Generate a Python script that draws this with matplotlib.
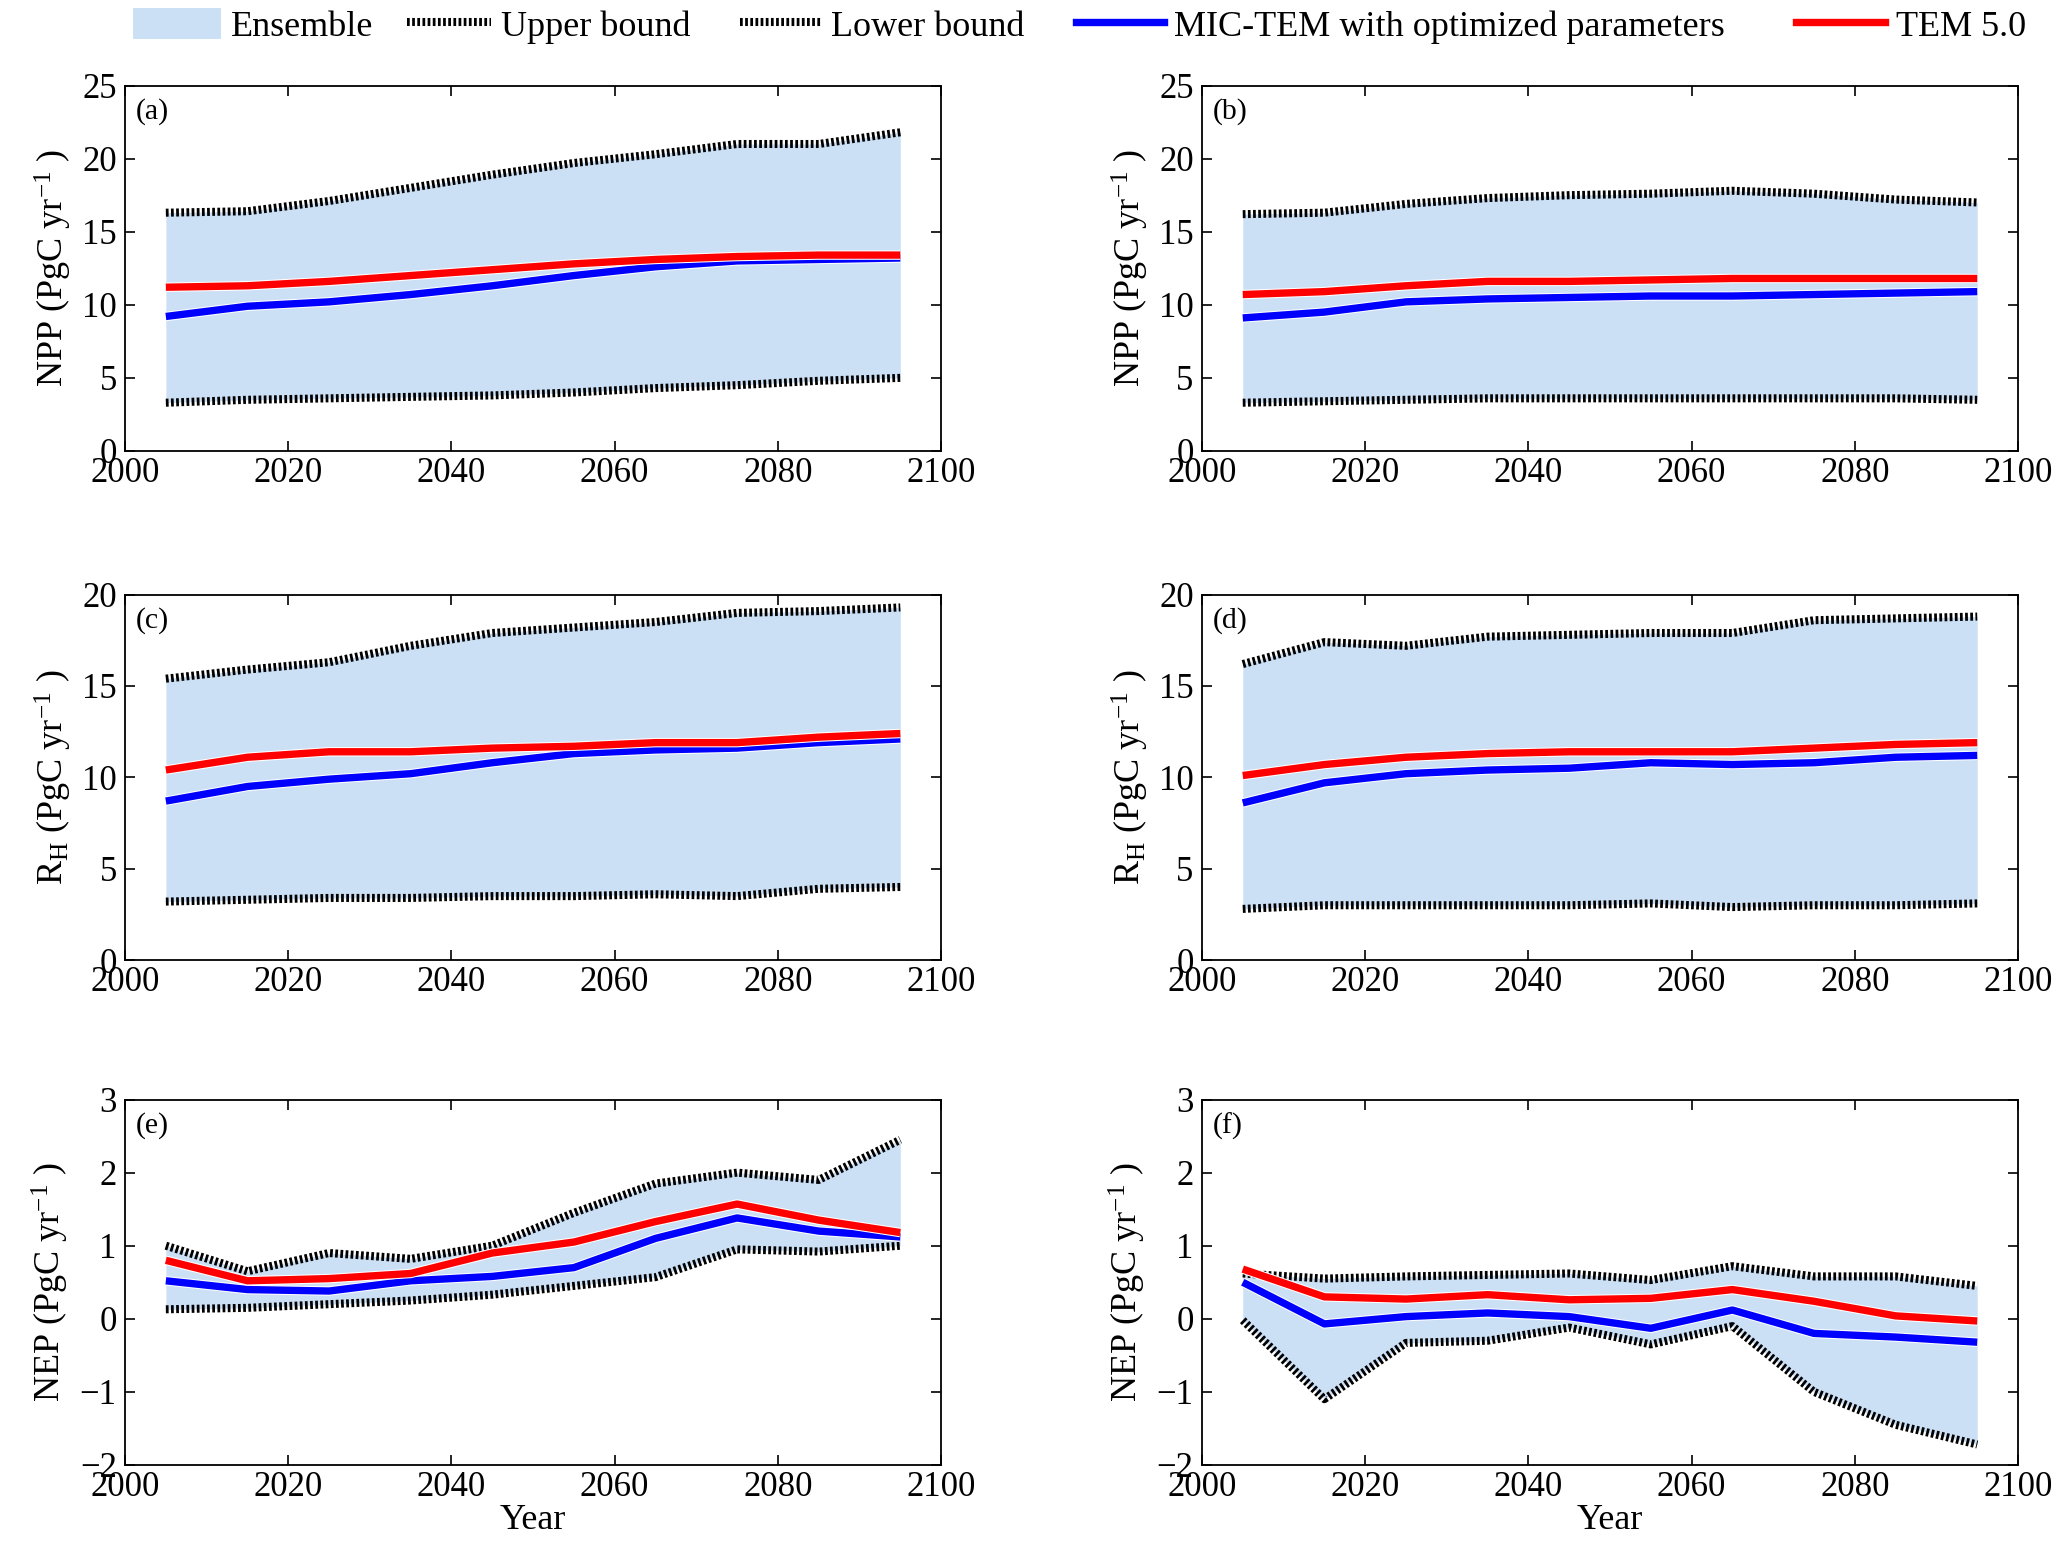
import numpy as np
import matplotlib
matplotlib.use("Agg")
import matplotlib.pyplot as plt
import matplotlib.patheffects as pe
from matplotlib.patches import Patch
from matplotlib.lines import Line2D

plt.rcParams['font.family'] = ['Liberation Serif', 'DejaVu Serif']
plt.rcParams['mathtext.fontset'] = 'custom'
plt.rcParams['mathtext.rm'] = 'Liberation Serif'
plt.rcParams['mathtext.it'] = 'Liberation Serif:italic'

years = [2005, 2015, 2025, 2035, 2045, 2055, 2065, 2075, 2085, 2095]

# NPP
npp_a_up = [16.3, 16.4, 17.1, 18.0, 18.9, 19.7, 20.3, 21.0, 21.0, 21.8]
npp_a_lo = [3.3, 3.5, 3.6, 3.7, 3.8, 4.0, 4.3, 4.5, 4.8, 5.0]
npp_a_mic = [9.2, 9.9, 10.2, 10.7, 11.3, 12.0, 12.6, 13.0, 13.1, 13.2]
npp_a_tem = [11.2, 11.3, 11.6, 12.0, 12.4, 12.8, 13.1, 13.3, 13.4, 13.4]

npp_b_up = [16.2, 16.3, 16.9, 17.3, 17.5, 17.6, 17.8, 17.6, 17.2, 17.0]
npp_b_lo = [3.3, 3.4, 3.5, 3.6, 3.6, 3.6, 3.6, 3.6, 3.6, 3.5]
npp_b_mic = [9.1, 9.5, 10.2, 10.4, 10.5, 10.6, 10.6, 10.7, 10.8, 10.9]
npp_b_tem = [10.7, 10.9, 11.3, 11.6, 11.6, 11.7, 11.8, 11.8, 11.8, 11.8]

# RH
rh_c_up = [15.4, 15.9, 16.3, 17.2, 17.9, 18.2, 18.5, 19.0, 19.1, 19.3]
rh_c_lo = [3.2, 3.3, 3.4, 3.4, 3.5, 3.5, 3.6, 3.5, 3.9, 4.0]
rh_c_mic = [8.7, 9.5, 9.9, 10.2, 10.8, 11.3, 11.5, 11.6, 11.9, 12.1]
rh_c_tem = [10.4, 11.1, 11.4, 11.4, 11.6, 11.7, 11.9, 11.9, 12.2, 12.4]

rh_d_up = [16.2, 17.4, 17.2, 17.7, 17.8, 17.9, 17.9, 18.6, 18.7, 18.8]
rh_d_lo = [2.8, 3.0, 3.0, 3.0, 3.0, 3.1, 2.9, 3.0, 3.0, 3.1]
rh_d_mic = [8.6, 9.7, 10.2, 10.4, 10.5, 10.8, 10.7, 10.8, 11.1, 11.2]
rh_d_tem = [10.1, 10.7, 11.1, 11.3, 11.4, 11.4, 11.4, 11.6, 11.8, 11.9]

# NEP
nep_e_up = [1.0, 0.65, 0.9, 0.82, 1.0, 1.45, 1.85, 2.0, 1.9, 2.45]
nep_e_lo = [0.13, 0.15, 0.2, 0.25, 0.33, 0.45, 0.57, 0.95, 0.92, 1.0]
nep_e_mic = [0.52, 0.4, 0.38, 0.52, 0.58, 0.7, 1.1, 1.38, 1.2, 1.12]
nep_e_tem = [0.8, 0.52, 0.55, 0.62, 0.9, 1.05, 1.33, 1.57, 1.35, 1.18]

nep_f_up = [0.62, 0.55, 0.58, 0.6, 0.62, 0.53, 0.72, 0.58, 0.58, 0.45]
nep_f_lo = [-0.02, -1.1, -0.33, -0.3, -0.12, -0.35, -0.1, -1.0, -1.45, -1.72]
nep_f_mic = [0.5, -0.07, 0.03, 0.08, 0.03, -0.13, 0.12, -0.2, -0.25, -0.32]
nep_f_tem = [0.68, 0.3, 0.27, 0.33, 0.26, 0.28, 0.4, 0.24, 0.04, -0.03]

fill_col = '#cce0f5'
bound_ls = (0, (0.34, 0.3))
bound_lw = 5.8
line_lw = 5.3
halo = [pe.Stroke(linewidth=line_lw + 1.5, foreground='white'), pe.Normal()]

panels = [
    ('(a)', npp_a_up, npp_a_lo, npp_a_mic, npp_a_tem, (0, 25), 5, 'NPP (PgC yr$^{-1}$ )'),
    ('(b)', npp_b_up, npp_b_lo, npp_b_mic, npp_b_tem, (0, 25), 5, 'NPP (PgC yr$^{-1}$ )'),
    ('(c)', rh_c_up, rh_c_lo, rh_c_mic, rh_c_tem, (0, 20), 5, 'R$_\\mathrm{H}$ (PgC yr$^{-1}$ )'),
    ('(d)', rh_d_up, rh_d_lo, rh_d_mic, rh_d_tem, (0, 20), 5, 'R$_\\mathrm{H}$ (PgC yr$^{-1}$ )'),
    ('(e)', nep_e_up, nep_e_lo, nep_e_mic, nep_e_tem, (-2, 3), 1, 'NEP (PgC yr$^{-1}$ )'),
    ('(f)', nep_f_up, nep_f_lo, nep_f_mic, nep_f_tem, (-2, 3), 1, 'NEP (PgC yr$^{-1}$ )'),
]

fig = plt.figure(figsize=(20.67, 15.55), dpi=100)
lefts = [0.0605, 0.5815]
bottoms = [0.7100, 0.3826, 0.0579]
w, h = 0.3948, 0.2350

for i, (lab, up, lo, mic, tem, ylim, ystep, ylab) in enumerate(panels):
    r, c = divmod(i, 2)
    ax = fig.add_axes([lefts[c], bottoms[r], w, h])
    ax.fill_between(years, lo, up, color=fill_col, linewidth=0, zorder=1)
    ax.plot(years, up, color='black', lw=bound_lw, ls=bound_ls, zorder=2)
    ax.plot(years, lo, color='black', lw=bound_lw, ls=bound_ls, zorder=2)
    ax.plot(years, mic, color='#0000ff', lw=line_lw, zorder=3, path_effects=halo,
            solid_capstyle='butt')
    ax.plot(years, tem, color='#ff0000', lw=line_lw, zorder=4, path_effects=halo,
            solid_capstyle='butt')
    ax.set_xlim(2000, 2100)
    ax.set_ylim(*ylim)
    ax.set_xticks(np.arange(2000, 2101, 20))
    ax.set_yticks(np.arange(ylim[0], ylim[1] + 0.1, ystep))
    ax.tick_params(direction='in', top=True, right=True, labelsize=25, length=7,
                   width=1.2)
    ax.tick_params(axis='y', pad=6)
    ax.tick_params(axis='x', pad=4)
    for s in ax.spines.values():
        s.set_linewidth(1.3)
    ax.set_ylabel(ylab, fontsize=26, labelpad=6)
    ax.text(0.013, 0.965, lab, transform=ax.transAxes, fontsize=21.5, va='top', ha='left')
    if r == 2:
        ax.set_xlabel('Year', fontsize=26, labelpad=0)

# legend entries, each placed where the reference puts it
entries = [
    (Patch(facecolor=fill_col, edgecolor='none'), 'Ensemble', 0.0643, 2.44),
    (Line2D([], [], color='black', lw=bound_lw, ls=bound_ls), 'Upper bound', 0.197, 2.33),
    (Line2D([], [], color='black', lw=bound_lw, ls=bound_ls), 'Lower bound', 0.358, 2.25),
    (Line2D([], [], color='#0000ff', lw=line_lw), 'MIC-TEM with optimized parameters', 0.5206, 2.44),
    (Line2D([], [], color='#ff0000', lw=line_lw), 'TEM 5.0', 0.869, 2.47),
]
for hnd, txt, x0, hl in entries:
    fig.legend([hnd], [txt], loc='center left', bbox_to_anchor=(x0, 1 - 26 / 1555),
               frameon=False, fontsize=26, handlelength=hl, handleheight=0.94,
               handletextpad=0.28, borderpad=0, borderaxespad=0)

fig.savefig('out.png', dpi=100)
